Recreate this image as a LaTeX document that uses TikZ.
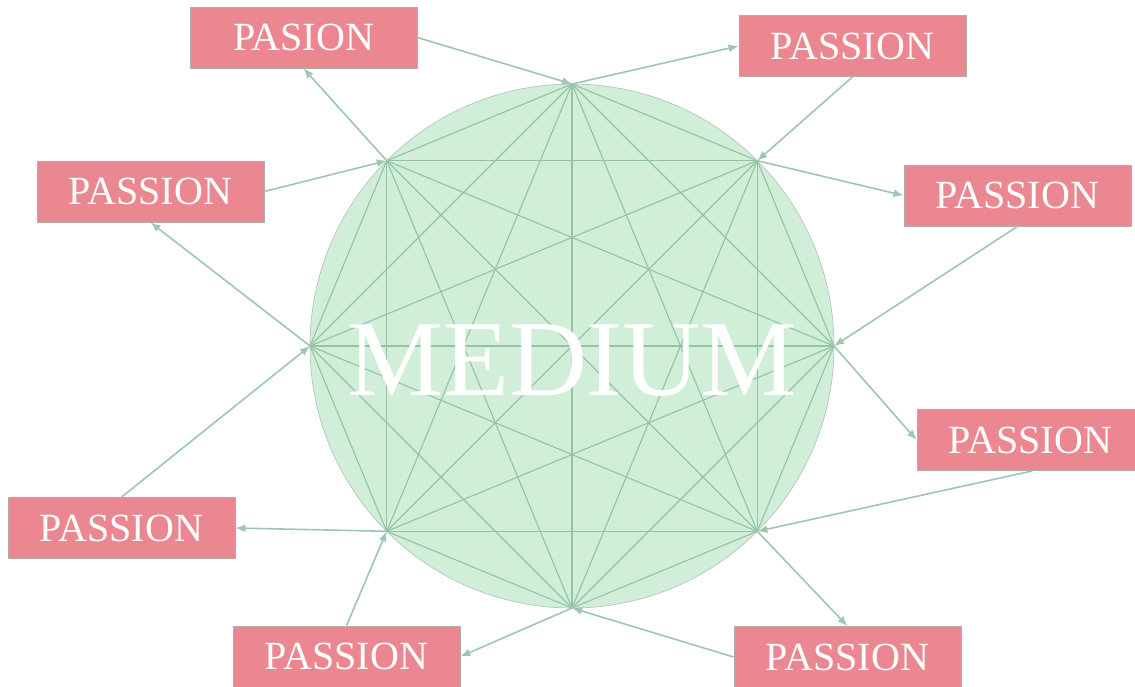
\documentclass[tikz,border=0pt]{standalone}
\usepackage{fontspec}
\setmainfont{Liberation Serif}
\usetikzlibrary{arrows.meta}
\definecolor{boxpink}{HTML}{EB8790}
\definecolor{circfill}{HTML}{D0EED8}
\definecolor{chordc}{HTML}{96C2A8}
\definecolor{arrc}{HTML}{9EC6B2}
\definecolor{boxedge}{HTML}{B4ACAC}
\definecolor{circedge}{HTML}{B0C0B6}
\begin{document}
\begin{tikzpicture}[x=1pt,y=-1pt,
  pbox/.style={draw=boxedge, line width=0.8pt, fill=boxpink, minimum width=227pt, minimum height=61pt, inner sep=0pt, text=white, font=\fontsize{40}{40}\selectfont},
  conn/.style={draw=arrc, line width=1.6pt, -{Latex[length=10pt,width=8pt]}},
  chordline/.style={draw=chordc, line width=1.1pt}]
\useasboundingbox (0,0) rectangle (1135,686);
% circle
\filldraw[fill=circfill, draw=circedge, line width=0.6pt] (572,346) circle (262pt);
% octagon vertices
\coordinate (v0) at (572,84);
\coordinate (v1) at (757.3,160.7);
\coordinate (v2) at (834,346);
\coordinate (v3) at (757.3,531.3);
\coordinate (v4) at (572,608);
\coordinate (v5) at (386.7,531.3);
\coordinate (v6) at (310,346);
\coordinate (v7) at (386.7,160.7);
\foreach \i in {0,...,6}{
  \pgfmathtruncatemacro\s{\i+1}
  \foreach \j in {\s,...,7}{
    \draw[chordline] (v\i) -- (v\j);
  }
}
\node[text=white, font=\fontsize{108}{108}\selectfont, anchor=base, inner sep=0pt] (medium) at (572,395) {MEDIUM};
% boxes
\node[pbox] (b1) at (303.5,37.5) {PASION};
\node[pbox] (b2) at (852.5,46) {PASSION};
\node[pbox] (b3) at (150.5,191.5) {PASSION};
\node[pbox] (b4) at (1017.5,195.5) {PASSION};
\node[pbox] (b5) at (1030.5,440) {PASSION};
\node[pbox] (b6) at (121.5,528) {PASSION};
\node[pbox] (b7) at (346.5,656.5) {PASSION};
\node[pbox] (b8) at (847.5,657) {PASSION};
% connectors
\draw[conn] (b1.east) -- (v0);
\draw[conn] (v0) -- (b2.west);
\draw[conn] (b2.south) -- (v1);
\draw[conn] (v1) -- (b4.west);
\draw[conn] (b4.south) -- (v2);
\draw[conn] (v2) -- (b5.west);
\draw[conn] ([xshift=2pt]b5.south) -- (v3);
\draw[conn] (v3) -- (b8.north);
\draw[conn] (b8.west) -- (v4);
\draw[conn] (v4) -- (b7.east);
\draw[conn] (b7.north) -- (v5);
\draw[conn] (v5) -- (b6.east);
\draw[conn] (b6.north) -- (v6);
\draw[conn] (v6) -- (b3.south);
\draw[conn] (b3.east) -- (v7);
\draw[conn] (v7) -- (b1.south);
\end{tikzpicture}
\end{document}
